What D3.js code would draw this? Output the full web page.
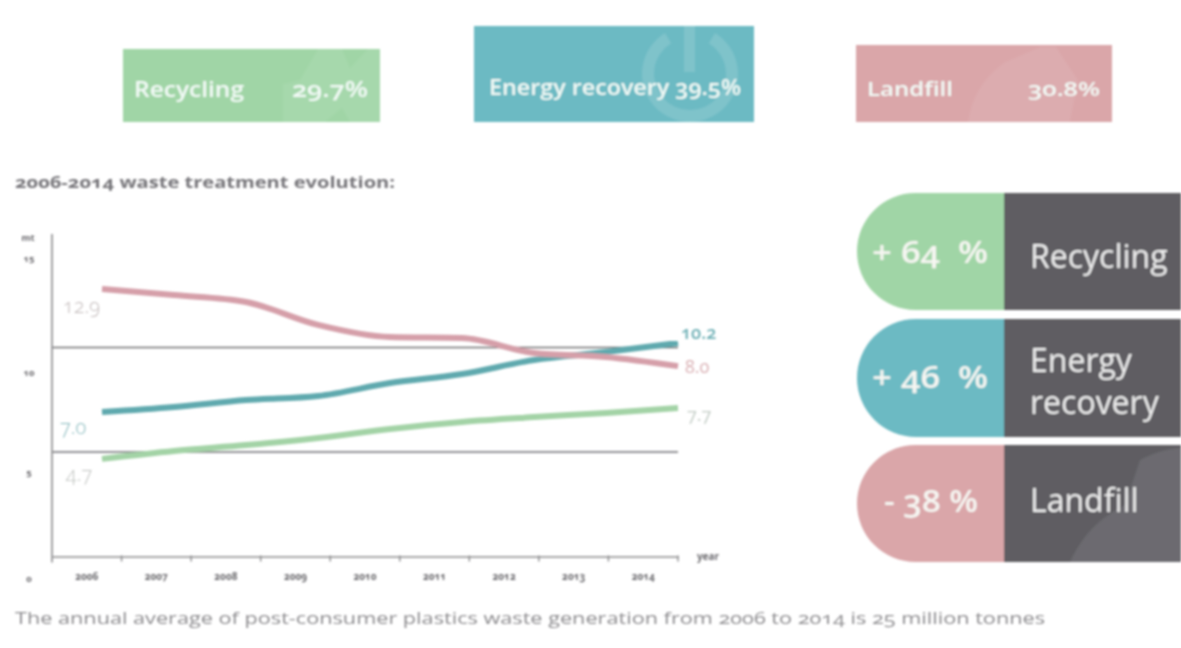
<!DOCTYPE html>
<html><head><meta charset="utf-8">
<script src="https://cdn.jsdelivr.net/npm/d3@7"></script>
<style>
html,body{margin:0;padding:0;background:#fff;overflow:hidden}
text{font-family:"Open Sans","Noto Sans",sans-serif;font-feature-settings:"onum" 1}
</style></head><body><div id="c"></div>
<script>
const years = ["2006","2007","2008","2009","2010","2011","2012","2013","2014"];
const landfill = [12.80,12.51,12.18,11.08,10.50,10.45,9.74,9.55,9.11];
const energy = [6.91,7.15,7.49,7.68,8.30,8.73,9.40,9.78,10.22];
const recycling = [4.67,5.05,5.33,5.67,6.10,6.44,6.67,6.87,7.11];
const yTicks = [0,5,10,15];
const gridValues = [5,10];
const seriesNames = ["Recycling","Energy recovery","Landfill"];
const shares = ["29.7%","39.5%","30.8%"];
const changes = ["+ 64  %","+ 46  %","- 38 %"];
const startLabels = ["4.7","7.0","12.9"];
const endLabels = ["7.7","10.2","8.0"];
const title = "2006-2014 waste treatment evolution:";
const footer = "The annual average of post-consumer plastics waste generation from 2006 to 2014 is 25 million tonnes";

const W=1181,H=648;
const green="#a0d5a6",teal="#6cbac3",pink="#daa6a9",dark="#5e5d62";
const lineCols=["#a3d3a6","#5fa9ae","#d59fa9"];
const svg=d3.select("#c").append("svg").attr("width",W).attr("height",H).style("display","block");
const defs=svg.append("defs");
defs.append("filter").attr("id","soft").attr("x","-5%").attr("y","-5%").attr("width","110%").attr("height","110%")
  .append("feGaussianBlur").attr("stdDeviation",0.8);
const root=svg.append("g").attr("filter","url(#soft)");
const fit=(sel,len)=>sel.attr("textLength",len).attr("lengthAdjust","spacingAndGlyphs");

// top panels
const panels=[
 {x:123,y:49,w:257,h:73,c:green,lx:134,ll:110,vx:292,vl:76,ty:97,fs:22},
 {x:474,y:26,w:280,h:96,c:teal,lx:489,ll:252,ty:95,fs:22},
 {x:856,y:45,w:256,h:77,c:pink,lx:867,ll:86,vx:1028,vl:72,ty:96,fs:19}];
const topG=root.append("g");
panels.forEach(p=>{
  topG.append("rect").attr("x",p.x).attr("y",p.y).attr("width",p.w).attr("height",p.h).attr("fill",p.c);
});
// faint panel icons
const pa=d3.arc().innerRadius(36).outerRadius(48).startAngle(0.55).endAngle(2*Math.PI-0.55);
topG.append("path").attr("d",pa()).attr("transform","translate(690,74)").attr("fill","#fff").attr("fill-opacity",.13);
topG.append("rect").attr("x",684).attr("y",26).attr("width",11).attr("height",46).attr("fill","#fff").attr("fill-opacity",.13);
topG.append("path").attr("d","M283 122V84L300 80L318 49H342L350 68L368 49H380V122H350L342 108L325 122Z").attr("fill","#fff").attr("fill-opacity",.07);
topG.append("path").attr("d","M968 122C972 95 985 76 1005 62L1040 47H1056L1078 80L1070 122Z").attr("fill","#fff").attr("fill-opacity",.07);
panels.forEach((p,i)=>{
  const t=(s,x,len)=>fit(topG.append("text").attr("x",x).attr("y",p.ty).attr("fill","#f2faf6").attr("font-size",p.fs).attr("font-weight",600).text(s),len);
  if(i==1) t(seriesNames[i]+" "+shares[i],p.lx,p.ll);
  else { t(seriesNames[i],p.lx,p.ll); t(shares[i],p.vx,p.vl); }
});

fit(root.append("text").attr("x",15).attr("y",188).attr("fill","#77767a").attr("font-size",16).attr("font-weight",700).text(title),380);

// chart
const x0=52,x1=678,yb=556.5;
const xBand=d3.scaleBand().domain(years).range([x0,x1]);
const xPt=d3.scalePoint().domain(years).range([102,x1]);
const y=d3.scaleLinear().domain([0,15]).range([yb,243]);
const axisCol="#8b8b8d",labCol="#6e6d71";
const ch=root.append("g");
ch.selectAll("line.g").data(gridValues).join("line").attr("class","g")
  .attr("x1",x0).attr("x2",x1).attr("y1",d=>y(d)).attr("y2",d=>y(d)).attr("stroke","#6f6f72").attr("stroke-width",1.4);

const yLabelDy={0:24.5,5:23,10:27.5,15:18};
const yAxis=d3.axisLeft(y).tickValues(yTicks).tickSize(0).tickFormat(d=>d);
const ya=ch.append("g").attr("transform",`translate(${x0},0)`).call(yAxis);
ya.select(".domain").remove();
ya.selectAll("text").attr("x",-23).attr("dy",d=>yLabelDy[d]).attr("text-anchor","middle")
  .attr("font-size",9.5).attr("font-weight",700).attr("fill",labCol).attr("font-family",null);
ch.append("line").attr("x1",x0).attr("x2",x0).attr("y1",234).attr("y2",yb+6).attr("stroke",axisCol).attr("stroke-width",1.6);

const xAxis=d3.axisBottom(xBand).tickSize(0).tickPadding(16);
const xa=ch.append("g").attr("transform",`translate(0,${yb})`).call(xAxis);
xa.select(".domain").attr("stroke",axisCol).attr("stroke-width",1.6);
xa.selectAll("text").attr("font-size",10).attr("font-weight",700).attr("fill",labCol).attr("font-family",null);
ch.selectAll("line.t").data(years).join("line").attr("class","t")
  .attr("x1",d=>xBand(d)+xBand.bandwidth()).attr("x2",d=>xBand(d)+xBand.bandwidth())
  .attr("y1",yb-1).attr("y2",yb+5).attr("stroke",axisCol).attr("stroke-width",1.4);
ch.append("text").attr("x",28).attr("y",241).attr("text-anchor","middle").attr("font-size",9.5).attr("font-weight",700).attr("fill",labCol).text("mt");
ch.append("text").attr("x",708).attr("y",560).attr("text-anchor","middle").attr("font-size",10).attr("font-weight",700).attr("fill",labCol).text("year");

const line=d3.line().x((d,i)=>xPt(years[i])).y(d=>y(d)).curve(d3.curveMonotoneX);
[recycling,energy,landfill].forEach((s,i)=>{
  ch.append("path").attr("d",line(s)).attr("fill","none").attr("stroke",lineCols[i]).attr("stroke-width",6);
});
const startPos=[{x:66,y:481,c:"#bfc2bf"},{x:60,y:434,c:"#85b8bc"},{x:63,y:313,c:"#c0b8b8"}];
const endPos=[{x:687,y:421,c:"#c2ccc5"},{x:681,y:339,c:"#6fb0b6"},{x:685,y:373,c:"#dab0b4"}];
startLabels.forEach((t,i)=>ch.append("text").attr("x",startPos[i].x).attr("y",startPos[i].y).attr("fill",startPos[i].c).attr("font-size",20).attr("font-weight",300).text(t));
endLabels.forEach((t,i)=>ch.append("text").attr("x",endPos[i].x).attr("y",endPos[i].y).attr("fill",endPos[i].c).attr("font-size",18).attr("font-weight",i==1?600:400).text(t));

// right pills
const rows=[{y:193,h:117,c:green,tx:872,ty:263,tl:116},
            {y:319,h:118,c:teal,tx:872,ty:388,tl:116},
            {y:445,h:117,c:pink,tx:884,ty:512,tl:94}];
const rg=root.append("g");
rows.forEach((r,i)=>{
  const rad=r.h/2,xl=857,xm=1004;
  const p=d3.path();
  p.moveTo(xm,r.y);p.lineTo(xl+rad,r.y);p.arc(xl+rad,r.y+rad,rad,-Math.PI/2,Math.PI/2,true);p.lineTo(xm,r.y+r.h);p.closePath();
  rg.append("path").attr("d",p.toString()).attr("fill",r.c);
  rg.append("rect").attr("x",xm).attr("y",r.y).attr("width",W-xm).attr("height",r.h).attr("fill",dark);
  fit(rg.append("text").attr("x",r.tx).attr("y",r.ty).attr("fill","#f6f6f2").attr("font-size",30).attr("font-weight",600).style("white-space","pre").text(changes[i]),r.tl);
  if(i==2) rg.append("path").attr("d","M1070 562C1085 530 1105 515 1125 505L1140 460C1155 452 1170 448 1181 448V562Z").attr("fill","#fff").attr("fill-opacity",.09);
  const names=seriesNames[i]==="Energy recovery"?["Energy","recovery"]:[seriesNames[i]];
  names.forEach((n,j)=>{
    rg.append("text").attr("x",1030).attr("y",names.length>1?372+j*42:(i==0?268:512)).attr("fill","#eeeeee").attr("font-size",32).attr("font-weight",500).text(n);
  });
});

fit(root.append("text").attr("x",15).attr("y",624).attr("fill","#8c8b8e").attr("font-size",17).text(footer),1030);
</script></body></html>
